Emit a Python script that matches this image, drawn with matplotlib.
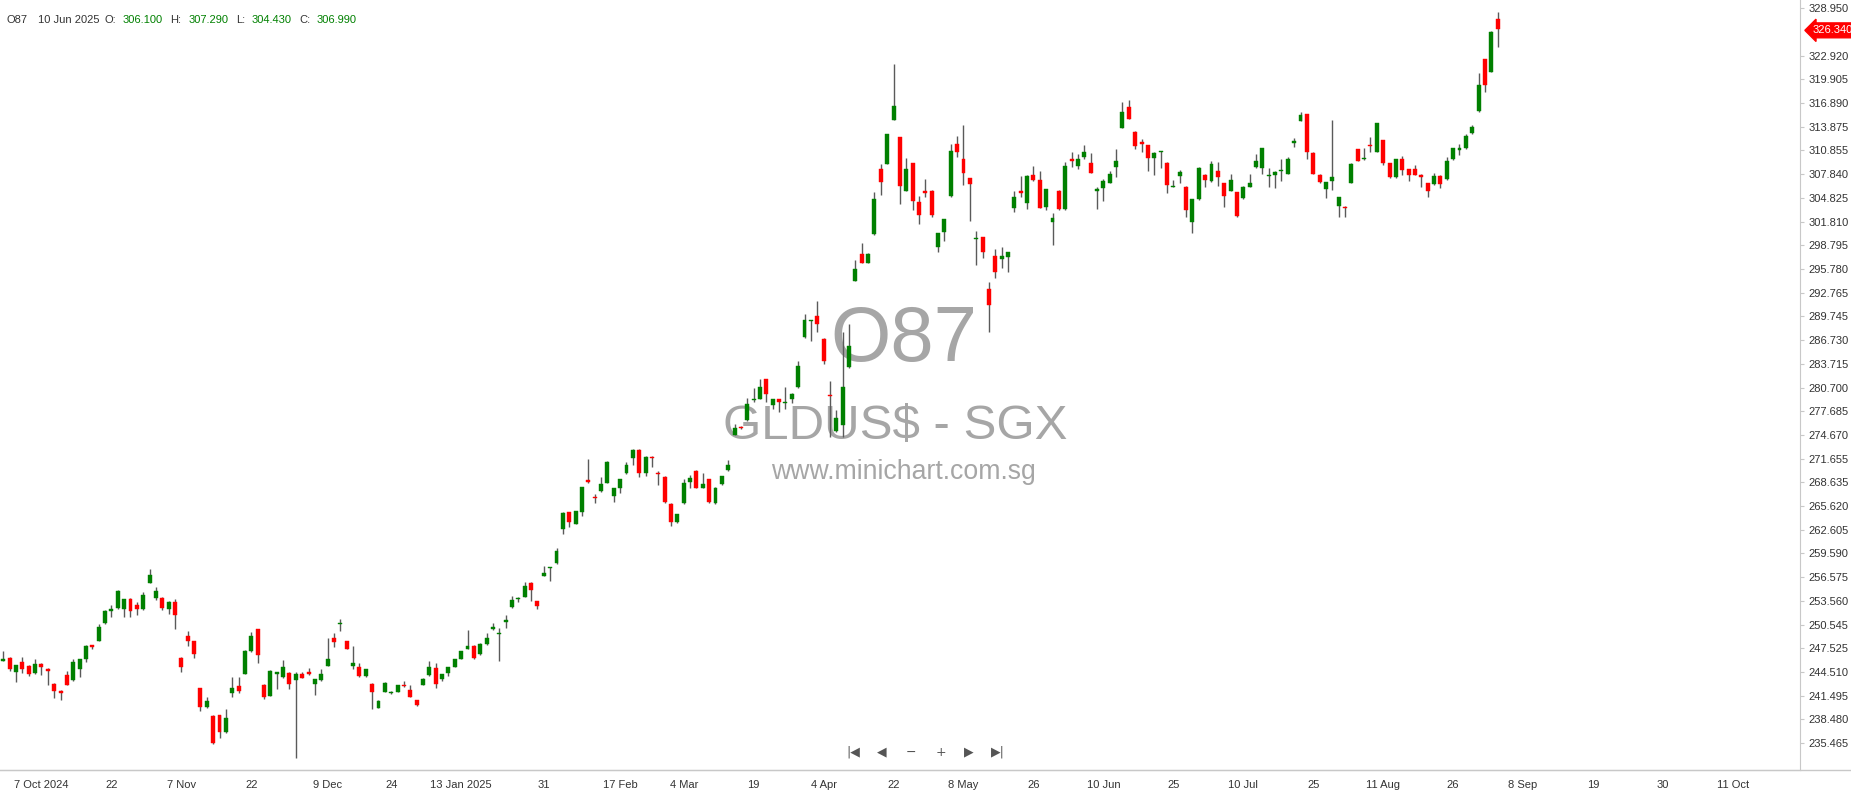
from __future__ import annotations

import matplotlib

matplotlib.use("Agg")
import matplotlib.pyplot as plt
import matplotlib.transforms as mtransforms
import numpy as np
from matplotlib.lines import Line2D

FIGURE_DPI = 100
FIG_W_PX, FIG_H_PX = 1851, 794
PLOT_RIGHT_PX, PLOT_BOTTOM_PX = 1800, 770

SYMBOL = "O87"
NAME = "GLDUS$ - SGX"
SITE = "www.minichart.com.sg"
HEADER_DATE = "10 Jun 2025"
HEADER_FIELDS = ["O:", "H:", "L:", "C:"]
HEADER_VALUES = ["306.100", "307.290", "304.430", "306.990"]

# daily bars, 27 Sep 2024 .. early Sep 2025
OPEN = [
    245.90, 246.32, 244.54, 245.74, 245.27, 244.34, 245.56, 244.89, 242.98, 242.13,
    244.12, 243.49, 244.89, 246.16, 247.90, 248.45, 250.74, 252.30, 252.60, 252.48,
    253.83, 253.03, 252.48, 255.87, 253.88, 253.88, 252.56, 253.41, 246.32, 249.12,
    248.45, 242.47, 240.01, 238.91, 239.03, 236.83, 241.87, 242.72, 244.29, 247.18,
    249.93, 242.89, 241.45, 244.29, 243.87, 244.42, 243.45, 244.29, 244.46, 242.94,
    243.45, 245.31, 248.87, 250.57, 248.45, 245.31, 245.14, 244.00, 243.02, 239.96,
    242.00, 241.83, 241.96, 242.89, 242.18, 240.98, 242.89, 244.08, 245.05, 243.58,
    244.42, 245.18, 246.16, 247.47, 247.85, 246.75, 248.07, 249.94, 249.30, 250.91,
    252.73, 253.75, 254.05, 255.87, 253.53, 256.76, 257.77, 258.33, 262.74, 264.86,
    263.37, 264.90, 268.89, 266.73, 267.49, 268.51, 266.93, 267.95, 269.78, 271.78,
    272.79, 269.78, 271.90, 269.78, 269.31, 265.88, 263.63, 265.97, 268.64, 270.08,
    267.91, 269.02, 265.97, 268.38, 270.20, 274.66, 275.64, 276.56, 279.10, 279.27,
    281.74, 278.44, 279.24, 278.69, 279.27, 280.80, 287.12, 289.12, 289.80, 286.87,
    279.78, 275.17, 275.93, 283.27, 294.29, 297.68, 296.58, 300.19, 308.54, 309.17,
    314.73, 312.53, 305.74, 309.22, 304.34, 305.66, 305.70, 298.61, 300.45, 305.06,
    311.68, 309.73, 307.31, 299.59, 299.81, 293.23, 297.47, 297.01, 297.34, 303.58,
    305.70, 304.13, 307.70, 307.14, 303.70, 301.72, 305.74, 303.41, 309.73, 308.88,
    310.06, 309.30, 305.74, 306.10, 306.76, 308.71, 313.75, 316.42, 313.17, 311.90,
    311.55, 309.86, 310.62, 309.30, 306.25, 307.65, 306.25, 301.72, 304.68, 307.70,
    307.01, 308.24, 306.68, 305.74, 305.53, 304.77, 306.25, 308.71, 308.59, 307.61,
    307.74, 308.20, 307.86, 311.77, 314.64, 315.46, 310.53, 307.74, 305.92, 307.01,
    303.79, 303.70, 306.76, 311.00, 309.73, 311.55, 310.70, 312.19, 309.22, 307.52,
    309.73, 308.46, 308.46, 307.74, 306.68, 306.59, 307.65, 307.19, 309.77, 310.88,
    311.13, 313.04, 315.88, 322.45, 320.88, 327.58,
]
HIGH = [
    247.18, 246.45, 245.45, 246.41, 245.40, 246.16, 245.70, 245.00, 243.10, 242.20,
    244.67, 246.16, 246.20, 247.90, 248.00, 250.57, 252.40, 253.03, 254.90, 253.80,
    253.90, 253.41, 254.72, 257.60, 255.28, 254.00, 253.50, 253.83, 246.40, 249.72,
    248.50, 242.50, 241.29, 239.00, 239.10, 239.80, 243.83, 243.83, 247.30, 249.56,
    250.00, 243.00, 244.70, 244.50, 246.00, 244.50, 244.55, 244.55, 244.97, 243.60,
    244.85, 248.87, 249.43, 251.21, 248.50, 247.85, 245.69, 244.90, 243.10, 240.90,
    243.20, 242.10, 242.90, 243.36, 242.89, 241.00, 243.70, 245.90, 245.61, 244.30,
    245.20, 246.20, 247.20, 249.85, 247.90, 248.20, 249.43, 250.70, 250.14, 251.72,
    254.17, 254.00, 255.99, 255.90, 253.60, 257.99, 257.90, 260.28, 264.80, 264.90,
    265.00, 268.10, 271.56, 267.19, 269.27, 271.40, 267.90, 269.10, 271.26, 272.85,
    272.85, 271.95, 272.00, 270.08, 269.40, 266.00, 264.60, 269.02, 269.61, 270.20,
    269.78, 269.10, 268.00, 269.50, 271.48, 276.06, 275.80, 279.33, 280.60, 281.74,
    281.80, 279.30, 279.30, 280.73, 280.00, 284.11, 290.05, 289.30, 291.74, 287.00,
    281.53, 277.84, 287.80, 288.78, 296.92, 299.05, 297.80, 305.61, 309.10, 313.00,
    321.86, 312.60, 309.86, 309.30, 305.10, 307.23, 305.80, 300.40, 302.20, 311.68,
    312.70, 314.10, 307.40, 300.61, 299.90, 294.08, 298.32, 298.61, 298.00, 305.70,
    307.65, 307.70, 308.88, 308.24, 306.00, 302.86, 305.80, 309.43, 310.70, 310.37,
    311.55, 310.57, 306.25, 307.29, 308.24, 311.00, 316.98, 317.28, 313.30, 312.28,
    311.60, 310.60, 310.80, 309.40, 307.10, 308.37, 306.30, 304.70, 308.70, 307.82,
    309.55, 309.43, 306.70, 307.82, 305.60, 306.30, 307.82, 310.40, 311.20, 308.67,
    308.28, 309.73, 310.06, 312.40, 315.79, 315.50, 310.60, 307.80, 306.90, 314.73,
    305.00, 303.80, 309.20, 311.10, 311.13, 312.53, 314.40, 312.20, 309.30, 309.80,
    310.15, 308.50, 308.97, 307.80, 306.70, 307.95, 307.70, 310.06, 311.20, 311.64,
    312.95, 314.10, 320.67, 322.50, 326.00, 328.44,
]
LOW = [
    245.85, 244.67, 243.27, 244.42, 244.00, 244.28, 244.16, 242.85, 241.16, 240.90,
    242.80, 243.40, 243.83, 245.78, 247.47, 248.40, 250.60, 251.46, 252.50, 251.46,
    251.46, 251.76, 252.40, 255.80, 253.66, 252.39, 251.88, 249.93, 244.47, 247.81,
    246.32, 239.58, 239.90, 235.40, 236.07, 236.80, 241.36, 241.87, 244.20, 247.10,
    245.61, 241.11, 241.40, 242.30, 243.80, 242.30, 233.53, 243.70, 244.08, 241.58,
    243.40, 245.30, 247.72, 249.72, 247.40, 244.85, 243.87, 243.90, 239.76, 239.90,
    242.00, 241.70, 241.90, 242.60, 241.30, 240.20, 242.80, 244.00, 242.45, 243.40,
    244.03, 245.10, 246.10, 247.40, 246.20, 246.70, 248.00, 249.90, 245.90, 250.07,
    252.70, 253.45, 254.00, 253.58, 252.48, 256.70, 256.04, 258.30, 262.02, 262.92,
    263.30, 264.35, 268.60, 266.05, 267.40, 268.50, 266.17, 267.24, 269.70, 270.84,
    269.35, 269.48, 270.62, 268.26, 266.00, 263.08, 263.50, 265.90, 267.95, 267.90,
    267.90, 266.00, 265.90, 268.30, 270.10, 274.60, 275.40, 276.50, 278.90, 279.20,
    278.89, 277.93, 277.62, 277.93, 278.77, 280.70, 287.00, 286.65, 287.80, 283.65,
    274.44, 275.10, 274.44, 283.20, 294.20, 296.50, 296.50, 300.10, 305.19, 309.10,
    314.70, 304.05, 305.70, 303.28, 301.50, 304.97, 302.43, 297.90, 299.34, 305.00,
    309.99, 306.46, 301.88, 296.28, 297.14, 287.80, 294.59, 295.87, 295.43, 302.99,
    304.97, 303.41, 307.00, 303.50, 303.28, 298.83, 303.30, 303.30, 308.71, 308.46,
    309.73, 308.00, 303.41, 304.43, 306.70, 307.52, 313.70, 314.80, 311.04, 310.70,
    308.28, 307.74, 308.59, 305.41, 306.20, 306.68, 302.43, 300.32, 304.60, 306.25,
    306.90, 306.37, 303.70, 305.70, 302.40, 304.70, 306.20, 308.60, 307.86, 306.17,
    306.04, 307.01, 307.80, 311.34, 314.60, 309.77, 307.80, 306.70, 304.77, 305.83,
    302.35, 302.43, 306.70, 309.50, 309.70, 310.70, 310.60, 309.01, 307.40, 307.40,
    307.74, 307.01, 307.70, 306.25, 304.97, 306.50, 306.04, 307.10, 309.70, 310.28,
    311.10, 313.00, 315.80, 318.26, 320.80, 324.06,
]
CLOSE = [
    246.16, 244.85, 245.40, 244.89, 244.25, 245.52, 245.18, 244.63, 242.13, 241.87,
    242.89, 245.74, 246.12, 247.85, 247.68, 250.27, 252.30, 252.48, 254.85, 253.79,
    252.30, 252.48, 254.26, 256.85, 254.85, 252.60, 253.41, 251.76, 245.18, 248.45,
    246.75, 240.10, 240.81, 235.43, 236.83, 238.69, 242.50, 242.13, 247.18, 249.12,
    246.63, 241.36, 244.67, 244.46, 245.14, 243.02, 244.29, 243.74, 244.29, 243.58,
    244.29, 246.16, 248.32, 250.70, 247.47, 245.69, 244.00, 244.85, 242.00, 240.81,
    243.14, 242.00, 242.81, 242.69, 241.32, 240.31, 243.65, 245.14, 243.02, 244.25,
    245.10, 246.12, 247.14, 247.85, 246.32, 248.07, 248.79, 250.23, 249.43, 251.12,
    253.66, 253.96, 255.44, 254.90, 252.90, 257.14, 257.86, 259.90, 264.70, 263.63,
    264.99, 268.00, 268.64, 266.60, 268.46, 271.26, 267.88, 269.02, 270.84, 272.73,
    269.78, 271.90, 271.69, 269.65, 266.10, 263.63, 264.57, 268.59, 269.15, 267.95,
    268.42, 266.10, 267.91, 269.44, 270.88, 275.59, 275.51, 278.56, 279.20, 280.73,
    279.83, 279.20, 278.85, 278.77, 279.91, 283.44, 289.29, 289.25, 288.82, 284.07,
    279.66, 276.78, 280.73, 285.98, 295.78, 296.58, 297.68, 304.64, 306.84, 312.95,
    316.51, 306.34, 308.54, 304.46, 302.65, 305.44, 302.65, 300.39, 302.10, 310.83,
    310.70, 308.03, 306.59, 299.76, 297.98, 291.20, 295.43, 297.47, 297.98, 304.97,
    305.41, 307.65, 307.10, 303.58, 305.95, 302.30, 303.41, 308.88, 309.55, 309.81,
    310.70, 308.03, 305.92, 306.99, 307.82, 309.55, 315.71, 314.86, 311.46, 311.64,
    309.86, 310.50, 310.70, 306.46, 306.37, 308.16, 303.28, 304.68, 308.67, 307.10,
    309.14, 307.52, 305.10, 307.10, 302.52, 306.25, 306.68, 309.55, 311.13, 307.74,
    308.08, 308.37, 309.77, 312.10, 315.37, 310.70, 307.86, 306.81, 306.88, 307.52,
    304.97, 303.58, 309.14, 309.55, 309.86, 311.42, 314.31, 309.22, 307.52, 309.73,
    308.37, 307.74, 307.74, 307.44, 305.74, 307.65, 306.59, 309.52, 311.13, 311.13,
    312.70, 313.88, 319.19, 319.19, 325.89, 326.34,
]

X_TICK_BARS = [6, 17, 28, 39, 51, 61, 72, 85, 97, 107, 118, 129, 140,
               151, 162, 173, 184, 195, 206, 217, 228, 239, 250, 261, 272]
X_TICK_LABELS = ["7 Oct 2024", "22", "7 Nov", "22", "9 Dec", "24", "13 Jan 2025",
                 "31", "17 Feb", "4 Mar", "19", "4 Apr", "22", "8 May", "26",
                 "10 Jun", "25", "10 Jul", "25", "11 Aug", "26", "8 Sep", "19",
                 "30", "11 Oct"]
Y_TICK_LABELS = ["328.950", "322.920", "319.905", "316.890", "313.875", "310.855",
                 "307.840", "304.825", "301.810", "298.795", "295.780", "292.765",
                 "289.745", "286.730", "283.715", "280.700", "277.685", "274.670",
                 "271.655", "268.635", "265.620", "262.605", "259.590", "256.575",
                 "253.560", "250.545", "247.525", "244.510", "241.495", "238.480",
                 "235.465"]

UP = "#008000"
DOWN = "#ff0000"
WICK = "#5a5a5a"
TEXT = "#333333"
MARK = "#a6a6a6"
FRAME = "#c8c8c8"


def fig_xy(x_px: float, y_px: float) -> tuple[float, float]:
    return x_px / FIG_W_PX, 1 - y_px / FIG_H_PX


def draw_candles(ax) -> None:
    o, h, l, c = (np.asarray(v) for v in (OPEN, HIGH, LOW, CLOSE))
    x = np.arange(len(c))
    colors = np.where(c >= o, UP, DOWN)
    ax.vlines(x, l, h, color=WICK, linewidth=1.0, zorder=2)
    ax.bar(
        x,
        np.maximum(np.abs(c - o), 0.14),
        bottom=np.minimum(o, c),
        width=0.62,
        color=colors,
        edgecolor=colors,
        linewidth=0.3,
        zorder=3,
    )


def draw_watermark(ax) -> None:
    def at(x_px, y_px):
        return x_px / PLOT_RIGHT_PX, 1 - y_px / PLOT_BOTTOM_PX

    common = dict(transform=ax.transAxes, ha="center", va="baseline", color=MARK, zorder=1)
    ax.text(*at(904, 361), SYMBOL, fontsize=56, **common)
    ax.text(*at(895, 439), NAME, fontsize=35.5, parse_math=False, **common)
    ax.text(*at(903, 479), SITE, fontsize=19.2, **common)


def draw_header(fig) -> None:
    y = 20
    fig.text(*fig_xy(6, y), SYMBOL, fontsize=8, color=TEXT, va="center")
    fig.text(*fig_xy(37.5, y), HEADER_DATE, fontsize=8, color=TEXT, va="center")
    starts = [(104, 123), (170, 189), (236, 252), (299, 317)]
    for (fx, vx), field, value in zip(starts, HEADER_FIELDS, HEADER_VALUES):
        fig.text(*fig_xy(fx, y), field, fontsize=8, color=TEXT, va="center")
        fig.text(*fig_xy(vx, y), value, fontsize=8, color=UP, va="center")


def draw_nav(fig) -> None:
    glyphs = ["|◀", "◀", "−", "+", "▶", "▶|"]
    xs = [853, 882, 911, 941, 969, 998]
    for x, g in zip(xs, glyphs):
        fig.text(*fig_xy(x, 752), g, fontsize=9, color="#555555",
                 ha="center", va="center", family=["DejaVu Sans"])


def main() -> None:
    plt.rcParams["font.family"] = ["Liberation Sans", "DejaVu Sans"]
    fig = plt.figure(figsize=(FIG_W_PX / FIGURE_DPI, FIG_H_PX / FIGURE_DPI), dpi=FIGURE_DPI)
    fig.patch.set_facecolor("white")
    ax = fig.add_axes([
        0,
        1 - PLOT_BOTTOM_PX / FIG_H_PX,
        PLOT_RIGHT_PX / FIG_W_PX,
        PLOT_BOTTOM_PX / FIG_H_PX,
    ])

    draw_candles(ax)
    draw_watermark(ax)

    ax.set_xlim(-0.52, 282.55)
    ax.set_ylim(232.04, 330.0)
    ax.set_xticks(X_TICK_BARS, X_TICK_LABELS)
    ax.yaxis.tick_right()
    ax.set_yticks([float(v) for v in Y_TICK_LABELS], Y_TICK_LABELS)
    ax.tick_params(axis="x", length=0, pad=7.5, labelsize=8, labelcolor=TEXT)
    ax.tick_params(axis="y", length=3, width=0.8, color=FRAME, pad=3,
                   labelsize=8, labelcolor=TEXT)
    for side in ("top", "left"):
        ax.spines[side].set_visible(False)
    for side in ("right", "bottom"):
        ax.spines[side].set_color(FRAME)

    # last price marker on the price scale
    trans = mtransforms.blended_transform_factory(ax.transAxes, ax.transData)
    ax.text(1.0 + 13 / PLOT_RIGHT_PX, CLOSE[-1] - 0.2, f"{CLOSE[-1]:.3f}", transform=trans,
            ha="left", va="center", fontsize=8, color="white", clip_on=False, zorder=10,
            bbox=dict(boxstyle="larrow,pad=0.22", fc=DOWN, ec=DOWN))

    y_line = 1 - PLOT_BOTTOM_PX / FIG_H_PX
    fig.add_artist(Line2D([0, 1], [y_line, y_line], color=FRAME, linewidth=1.0))

    draw_header(fig)
    draw_nav(fig)

    fig.savefig("out.png", dpi=FIGURE_DPI)
    plt.close(fig)


if __name__ == "__main__":
    main()
